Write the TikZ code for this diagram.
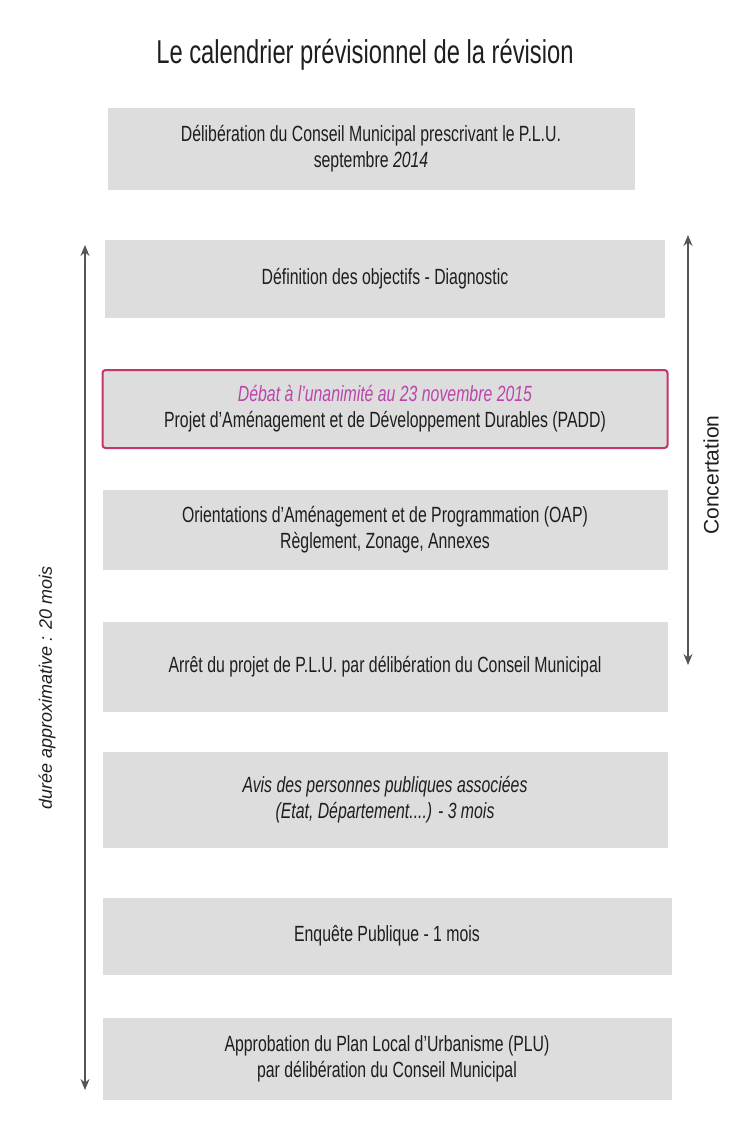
\documentclass[tikz,border=0pt]{standalone}
\usepackage{fontspec}
\setmainfont[FakeStretch=0.72]{Liberation Sans}
\newfontfamily\plainsans{Liberation Sans}
\usetikzlibrary{arrows.meta,calc}
\definecolor{BoxClr}{RGB}{221,221,221}
\definecolor{TextClr}{RGB}{30,30,30}
\definecolor{PaddClr}{RGB}{196,52,110}
\definecolor{DateClr}{RGB}{186,70,170}
\definecolor{ArrowClr}{RGB}{85,85,85}

\tikzset{
  stage/.style={fill=BoxClr, text=TextClr, align=center, inner sep=0pt,
    font=\fontsize{22}{26}\selectfont},
  span/.style={{Stealth[length=11pt,width=9pt]}-{Stealth[length=11pt,width=9pt]},
    color=ArrowClr, line width=1.3pt}
}

\begin{document}
\begin{tikzpicture}[x=1pt,y=-1pt]
\useasboundingbox[fill=white] (0,0) rectangle (731,1132);

% titre
\node[text=TextClr, font=\fontsize{33}{38}\selectfont] (titre) at (365,55)
  {Le calendrier prévisionnel de la révision};

% etapes
\node[stage, minimum width=527, minimum height=82] (prescription) at (371,149)
  {Délibération du Conseil Municipal prescrivant le P.L.U.\\ septembre \textit{2014}};
\node[stage, minimum width=560, minimum height=78] (objectifs) at (385,279)
  {Définition des objectifs - Diagnostic};
\node[stage, minimum width=565, minimum height=78, draw=PaddClr, line width=2pt,
  rounded corners=3pt] (padd) at (385,409)
  {\textcolor{DateClr}{\itshape Débat à l'unanimité au 23 novembre 2015}\\
   Projet d'Aménagement et de Développement Durables (PADD)};
\node[stage, minimum width=565, minimum height=80] (oap) at (385,530)
  {Orientations d'Aménagement et de Programmation (OAP)\\ Règlement, Zonage, Annexes};
\node[stage, minimum width=565, minimum height=90] (arret) at (385,667)
  {Arrêt du projet de P.L.U. par délibération du Conseil Municipal};
\node[stage, minimum width=565, minimum height=96] (avis) at (385,800)
  {\itshape Avis des personnes publiques associées\\ \itshape (Etat, Département....) - 3 mois};
\node[stage, minimum width=569, minimum height=77] (enquete) at (387,936)
  {Enquête Publique - 1 mois};
\node[stage, minimum width=569, minimum height=82] (approbation) at (387,1059)
  {Approbation du Plan Local d'Urbanisme (PLU)\\ par délibération du Conseil Municipal};

% fleches de duree
\coordinate (dureeHaut) at (85,245);
\coordinate (dureeBas) at (85,1090);
\draw[span] (dureeHaut) -- (dureeBas);
\node[rotate=90, text=TextClr, font=\plainsans\itshape\fontsize{18}{21}\selectfont] (duree)
  at (47,688) {durée approximative : 20 mois};

\coordinate (concertHaut) at (688,235);
\coordinate (concertBas) at (688,665);
\draw[span] (concertHaut) -- (concertBas);
\node[rotate=90, text=TextClr, font=\plainsans\fontsize{21}{24}\selectfont] (concertation)
  at (711,475) {Concertation};

\end{tikzpicture}
\end{document}
